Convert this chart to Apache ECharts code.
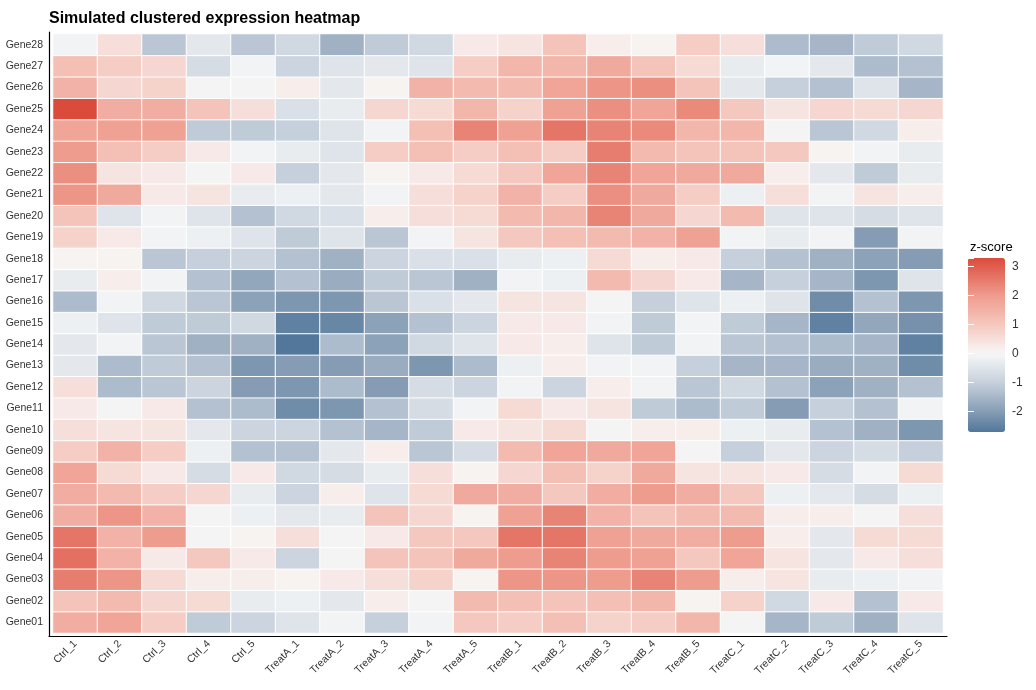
<!DOCTYPE html>
<html>
<head>
<meta charset="utf-8">
<title>Simulated clustered expression heatmap</title>
<script src="https://cdn.jsdelivr.net/npm/echarts@6/dist/echarts.min.js"></script>
<style>
html, body { margin: 0; padding: 0; background: #fff; }
#heatmap { width: 1036px; height: 690px; }
</style>
</head>
<body>
<div id="heatmap"></div>
<script>
var samples = ['Ctrl_1', 'Ctrl_2', 'Ctrl_3', 'Ctrl_4', 'Ctrl_5',
	'TreatA_1', 'TreatA_2', 'TreatA_3', 'TreatA_4', 'TreatA_5',
	'TreatB_1', 'TreatB_2', 'TreatB_3', 'TreatB_4', 'TreatB_5',
	'TreatC_1', 'TreatC_2', 'TreatC_3', 'TreatC_4', 'TreatC_5'];

var genes = ['Gene01', 'Gene02', 'Gene03', 'Gene04', 'Gene05', 'Gene06', 'Gene07',
	'Gene08', 'Gene09', 'Gene10', 'Gene11', 'Gene12', 'Gene13', 'Gene14',
	'Gene15', 'Gene16', 'Gene17', 'Gene18', 'Gene19', 'Gene20', 'Gene21',
	'Gene22', 'Gene23', 'Gene24', 'Gene25', 'Gene26', 'Gene27', 'Gene28'];

// z-scores, one row per gene (Gene01 first), one value per sample
var zScores = [
	[1.6, 1.8, 0.9, -1.1, -0.9, -0.5, -0.1, -1.0, -0.1, 1.0, 0.9, 1.2, 0.8, 0.9, 1.4, 0.0, -1.5, -1.1, -1.6, -0.5],
	[1.1, 1.3, 0.7, 0.6, -0.3, -0.2, -0.4, 0.2, 0.0, 1.3, 1.2, 1.1, 1.2, 1.4, 0.1, 0.8, -0.8, 0.3, -1.3, 0.3],
	[2.5, 2.1, 0.6, 0.2, 0.2, 0.1, 0.3, 0.5, 0.8, 0.1, 2.1, 2.1, 2.0, 2.4, 2.0, 0.2, 0.4, -0.3, -0.2, -0.1],
	[2.7, 1.5, 0.3, 1.0, 0.3, -0.9, 0.0, 1.1, 1.1, 1.7, 2.0, 2.4, 2.0, 1.9, 1.0, 1.8, 0.4, -0.4, 0.3, 0.5],
	[2.6, 1.5, 2.0, 0.0, 0.1, 0.5, 0.0, 0.3, 1.0, 1.0, 2.6, 2.6, 1.9, 1.7, 1.6, 2.0, 0.2, -0.4, 0.6, 0.6],
	[1.6, 2.1, 1.5, 0.0, -0.2, -0.4, -0.3, 1.1, 0.7, 0.1, 1.9, 2.4, 1.5, 1.1, 1.3, 1.3, 0.2, 0.2, 0.0, 0.5],
	[1.6, 1.3, 0.9, 0.7, -0.3, -0.9, 0.2, -0.5, 0.6, 1.7, 1.6, 1.0, 1.6, 2.0, 1.6, 1.0, -0.2, -0.4, -0.7, -0.2],
	[1.8, 0.6, 0.3, -0.7, 0.3, -0.8, -0.7, -0.3, 0.5, 0.1, 0.7, 1.2, 0.8, 1.7, 0.4, 0.4, 0.3, -0.7, -0.1, 0.6],
	[0.9, 1.5, 0.9, -0.2, -1.3, -1.3, -0.4, 0.2, -1.2, -0.7, 1.3, 1.8, 1.7, 1.8, 0.0, -1.0, -0.4, -0.9, -0.7, -1.0],
	[0.5, 0.4, 0.4, -0.4, -0.9, -0.9, -1.3, -1.5, -1.1, 0.3, 0.4, 0.6, 0.0, 0.2, 0.2, -0.2, -0.3, -1.3, -1.6, -2.1],
	[0.3, 0.0, 0.3, -1.3, -1.4, -2.3, -2.1, -1.3, -0.7, -0.1, 0.6, 0.3, 0.4, -1.1, -1.4, -1.1, -2.0, -1.0, -1.3, -0.1],
	[0.5, -1.4, -1.2, -0.9, -2.0, -2.1, -1.4, -2.0, -0.7, -0.9, -0.1, -0.9, 0.2, -0.1, -1.2, -0.8, -1.3, -1.9, -1.6, -1.3],
	[-0.4, -1.4, -1.1, -1.3, -2.1, -2.0, -2.0, -1.7, -2.1, -1.4, -0.2, 0.2, -0.1, -0.1, -1.0, -1.5, -1.5, -1.7, -1.6, -2.3],
	[-0.4, -0.1, -1.2, -1.6, -1.6, -2.7, -1.4, -1.9, -0.8, -0.5, 0.3, 0.2, -0.5, -1.1, -0.1, -1.2, -1.3, -1.4, -1.5, -2.5],
	[-0.2, -0.5, -1.1, -1.1, -0.8, -2.5, -2.4, -1.9, -1.3, -0.9, 0.3, 0.3, -0.1, -1.1, -0.1, -1.1, -1.5, -2.5, -1.8, -2.2],
	[-1.4, -0.1, -0.8, -1.2, -1.9, -2.1, -2.1, -1.2, -0.6, -0.4, 0.4, 0.4, 0.0, -1.0, -0.5, -0.2, -0.5, -2.3, -1.3, -2.1],
	[-0.3, 0.2, -0.1, -1.3, -1.8, -1.3, -1.7, -1.1, -1.2, -1.6, -0.1, -0.2, 1.3, 0.7, 0.3, -1.5, -1.0, -1.5, -2.1, -0.5],
	[0.1, 0.1, -1.2, -1.0, -0.9, -1.3, -1.6, -0.9, -0.6, -0.6, -0.3, -0.2, 0.6, 0.2, 0.3, -1.0, -1.3, -1.6, -1.9, -2.0],
	[0.8, 0.3, -0.1, -0.2, -0.5, -1.1, -0.5, -1.2, -0.1, 0.4, 1.0, 1.2, 1.3, 1.5, 1.9, -0.1, -0.3, -0.1, -2.0, -0.1],
	[1.1, -0.5, -0.1, -0.5, -1.3, -0.8, -0.6, 0.2, 0.5, 0.6, 1.3, 1.4, 2.4, 1.7, 0.7, 1.3, -0.5, -0.5, -0.7, -0.5],
	[2.1, 1.7, 0.3, 0.4, -0.3, -0.2, -0.4, -0.1, 0.5, 0.8, 1.5, 0.9, 2.2, 1.7, 0.9, -0.2, 0.5, -0.1, 0.4, 0.2],
	[2.2, 0.4, 0.3, 0.0, 0.3, -1.0, -0.4, 0.1, 0.3, 0.6, 1.0, 1.8, 2.4, 1.8, 1.7, 1.7, 0.2, -0.4, -1.1, -0.3],
	[2.0, 1.2, 0.9, 0.3, -0.1, -0.3, -0.5, 0.9, 1.2, 0.9, 1.2, 0.9, 2.5, 1.3, 1.1, 1.1, 1.0, 0.1, -0.1, -0.3],
	[1.8, 1.9, 1.9, -1.1, -1.1, -1.0, -0.5, -0.1, 1.2, 2.4, 1.9, 2.6, 2.4, 2.3, 1.4, 1.4, 0.0, -1.2, -0.8, 0.2],
	[3.3, 1.6, 1.6, 1.1, 0.5, -0.6, -0.3, 0.7, 0.6, 1.4, 0.8, 1.9, 2.2, 1.8, 2.3, 1.0, 0.4, 0.7, 0.6, 0.7],
	[1.5, 0.7, 0.8, 0.0, 0.0, 0.2, -0.4, 0.1, 1.5, 1.3, 1.3, 1.8, 2.1, 2.2, 1.1, -0.4, -1.0, -1.3, -0.5, -1.5],
	[1.2, 0.9, 0.7, -0.7, -0.1, -0.9, -0.5, -0.4, -0.5, 0.9, 1.4, 1.4, 1.7, 1.1, 0.6, -0.3, -0.1, -0.4, -1.4, -1.3],
	[-0.1, 0.5, -1.2, -0.4, -1.2, -0.8, -1.6, -1.1, -0.8, 0.3, 0.4, 1.1, 0.2, 0.1, 0.9, 0.5, -1.4, -1.5, -1.1, -0.8]
];

// colour anchors of the diverging z-score scale
var scaleStops = [-2.7, -2, -1, 0, 1, 2, 3.35];
var scaleColors = ['#52779a', '#859cb4', '#c6d0dc', '#f7f7f7', '#f5c8bf', '#ee9c8e', '#da4838'];

var FONT = '"Liberation Sans", Arial, sans-serif';

function hexToRgb(h){
	return [parseInt(h.substr(1, 2), 16), parseInt(h.substr(3, 2), 16), parseInt(h.substr(5, 2), 16)];
}

function colorAt(v){
	var last = scaleStops.length - 2;
	for(var i = 0; i <= last; i++){
		if(v <= scaleStops[i+1] || i == last){
			var t = (v - scaleStops[i]) / (scaleStops[i+1] - scaleStops[i]);
			t = Math.max(0, Math.min(1, t));
			var a = hexToRgb(scaleColors[i]);
			var b = hexToRgb(scaleColors[i+1]);
			var c = [];
			for(var k = 0; k < 3; k++){
				c.push(Math.round(a[k] + (b[k] - a[k]) * t));
			}
			return 'rgb(' + c.join(',') + ')';
		}
	}
}

function buildRamp(min, max, n){
	var ramp = [];
	for(var i = 0; i < n; i++){
		ramp.push(colorAt(min + (max - min) * i / (n - 1)));
	}
	return ramp;
}

// plain axis used only to draw the L-shaped panel border
function frameAxis(gridIndex){
	return {
		type: 'value', gridIndex: gridIndex, min: 0, max: 1,
		axisLine: { show: true, onZero: false, lineStyle: { color: '#000', width: 1.2 } },
		axisTick: { show: false },
		axisLabel: { show: false },
		splitLine: { show: false }
	};
}

function initHeatmap(){
	var cells = [];
	var zMin = Infinity, zMax = -Infinity;
	for(var g = 0; g < genes.length; g++){
		for(var s = 0; s < samples.length; s++){
			var v = zScores[g][s];
			cells.push([s, g, v]);
			if(v < zMin) zMin = v;
			if(v > zMax) zMax = v;
		}
	}

	var chart = echarts.init(document.getElementById('heatmap'));
	var barTicks = {
		inside: true, length: 6,
		lineStyle: { color: '#fff', width: 1 }
	};

	var option = {
		backgroundColor: '#fff',
		animation: false,
		textStyle: { fontFamily: FONT },
		title: [
			{
				text: 'Simulated clustered expression heatmap',
				left: 44, top: 6,
				textStyle: { fontFamily: FONT, fontSize: 16, fontWeight: 'bold', color: '#000' }
			},
			{
				text: 'z-score',
				left: 965, top: 236,
				textStyle: { fontFamily: FONT, fontSize: 13, fontWeight: 'normal', color: '#000' }
			}
		],
		grid: [
			{ left: 53, right: 93, top: 34, bottom: 57 },
			{ left: 49, right: 89, top: 32, bottom: 54 },
			{ left: 968, top: 258, width: 37, height: 174 }
		],
		xAxis: [
			{
				type: 'category', gridIndex: 0, data: samples, offset: 3,
				axisLine: { show: false },
				axisTick: { alignWithLabel: true, length: 4, lineStyle: { color: '#333' } },
				axisLabel: { rotate: 45, interval: 0, fontSize: 10.5, color: '#333', margin: 6 },
				splitLine: { show: false }
			},
			frameAxis(1),
			{ type: 'value', gridIndex: 2, min: 0, max: 1, show: false }
		],
		yAxis: [
			{
				type: 'category', gridIndex: 0, data: genes, offset: 4,
				axisLine: { show: false },
				axisTick: { alignWithLabel: true, length: 4, lineStyle: { color: '#333' } },
				axisLabel: { interval: 0, fontSize: 10.5, color: '#333', margin: 6 },
				splitLine: { show: false }
			},
			frameAxis(1),
			{
				type: 'value', gridIndex: 2, min: zMin, max: zMax, position: 'right', z: 10,
				axisLine: { show: false },
				axisTick: barTicks,
				axisLabel: { fontSize: 12, color: '#333', margin: 7, showMinLabel: false, showMaxLabel: false },
				splitLine: { show: false }
			},
			{
				type: 'value', gridIndex: 2, min: zMin, max: zMax, position: 'left', z: 10,
				axisLine: { show: false },
				axisTick: barTicks,
				axisLabel: { show: false },
				splitLine: { show: false }
			}
		],
		visualMap: {
			type: 'continuous',
			seriesIndex: 0,
			dimension: 2,
			min: zMin,
			max: zMax,
			left: 968,
			top: 258,
			z: 2,
			itemWidth: 37,
			itemHeight: 174,
			padding: 0,
			calculable: false,
			hoverLink: false,
			inRange: { color: buildRamp(zMin, zMax, 40) }
		},
		series: [{
			type: 'heatmap',
			xAxisIndex: 0,
			yAxisIndex: 0,
			data: cells,
			itemStyle: { borderColor: '#fff', borderWidth: 1 },
			emphasis: { disabled: true }
		}]
	};
	chart.setOption(option);
}

(function init(){
	initHeatmap();
})();
</script>
</body>
</html>
